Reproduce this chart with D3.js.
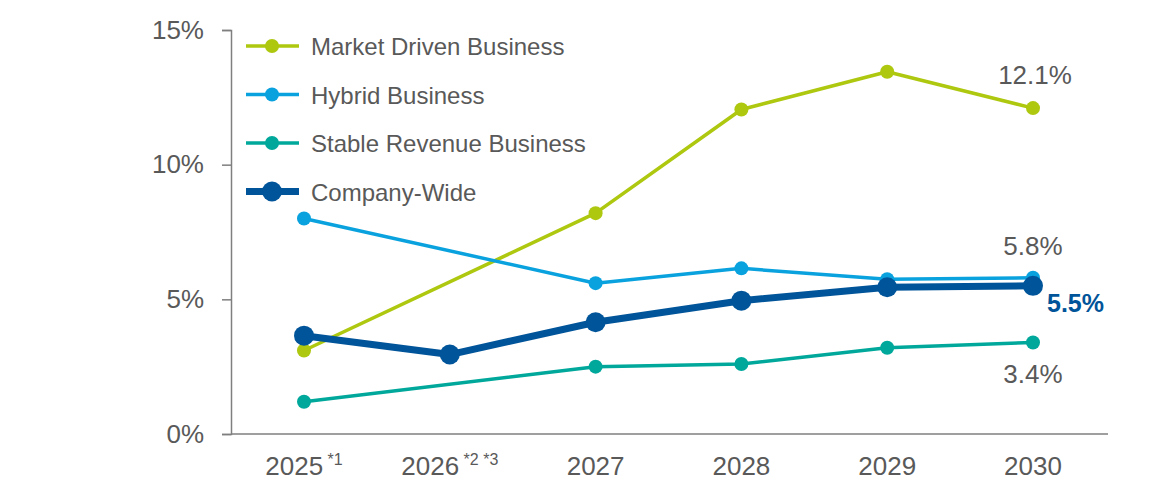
<!DOCTYPE html>
<html>
<head>
<meta charset="utf-8">
<script src="https://cdn.jsdelivr.net/npm/d3@7/dist/d3.min.js"></script>
<style>
  html, body { margin: 0; padding: 0; background: #fff; }
  svg { display: block; font-family: "Liberation Sans", Arial, sans-serif; }
</style>
</head>
<body>
<svg id="chart" width="1166" height="483"></svg>
<script>
// Fiscal years on the x axis (footnote markers shown as superscripts)
const years = ["2025", "2026", "2027", "2028", "2029", "2030"];
const yearNotes = ["*1", "*2 *3", "", "", "", ""];

// Growth rates in % (null = no value for that year)
const marketDriven = [3.1, null, 8.2, 12.05, 13.45, 12.1];
const hybrid = [8.0, null, 5.6, 6.15, 5.75, 5.8];
const stableRevenue = [1.2, null, 2.5, 2.6, 3.2, 3.4];
const companyWide = [3.65, 2.95, 4.15, 4.95, 5.45, 5.5];

const yTicks = [0, 5, 10, 15];

const series = [
  { name: "Market Driven Business", values: marketDriven, color: "#AEC70F", width: 3.5, r: 7 },
  { name: "Hybrid Business", values: hybrid, color: "#0AA2DE", width: 3.5, r: 7 },
  { name: "Stable Revenue Business", values: stableRevenue, color: "#00A89B", width: 3.5, r: 7 },
  { name: "Company-Wide", values: companyWide, color: "#005499", width: 7, r: 10 }
];

const svg = d3.select("#chart");
const margin = { left: 231, right: 58, top: 30, bottom: 49 };
const W = 1166, H = 483;

const x = d3.scalePoint().domain(years).range([304, 1033]);
const y = d3.scaleLinear().domain([0, 15]).range([H - margin.bottom, margin.top]);

const textColor = "#595959";
const axisColor = "#7f7f7f";

// Y axis
const yAxis = svg.append("g")
  .attr("transform", `translate(${margin.left},0)`)
  .call(d3.axisLeft(y).tickValues(yTicks).tickSize(9).tickPadding(18).tickFormat(d => d + "%"));
yAxis.select(".domain").attr("stroke", axisColor).attr("stroke-width", 1.5);
yAxis.selectAll(".tick line").attr("stroke", axisColor).attr("stroke-width", 1.5);
yAxis.selectAll(".tick text").attr("fill", textColor).attr("font-size", 26).attr("font-family", null);

// X axis baseline
svg.append("line")
  .attr("x1", margin.left).attr("x2", W - margin.right)
  .attr("y1", y(0)).attr("y2", y(0))
  .attr("stroke", axisColor).attr("stroke-width", 1.5);

// X labels with footnote superscripts, whole label centred on its year
const xl = svg.append("g").selectAll("text").data(years).join("text")
  .attr("x", d => x(d))
  .attr("y", 475)
  .attr("text-anchor", "middle")
  .attr("fill", textColor)
  .attr("font-size", 26);
xl.each(function(d, i) {
  const t = d3.select(this);
  t.append("tspan").text(d);
  if (yearNotes[i]) {
    t.append("tspan").text(" " + yearNotes[i]).attr("font-size", 16).attr("dy", -10);
  }
});

// Lines and markers
const line = d3.line()
  .defined(d => d.v !== null)
  .x(d => x(d.year))
  .y(d => y(d.v));

series.forEach(s => {
  const pts = years.map((yr, i) => ({ year: yr, v: s.values[i] })).filter(d => d.v !== null);
  svg.append("path")
    .datum(pts)
    .attr("fill", "none")
    .attr("stroke", s.color)
    .attr("stroke-width", s.width)
    .attr("stroke-linejoin", "round")
    .attr("d", line);
  svg.append("g").selectAll("circle").data(pts).join("circle")
    .attr("cx", d => x(d.year))
    .attr("cy", d => y(d.v))
    .attr("r", s.r)
    .attr("fill", s.color);
});

// Legend
const legend = svg.append("g");
series.forEach((s, i) => {
  const ly = 46 + i * 48.5;
  legend.append("line")
    .attr("x1", 246).attr("x2", 299).attr("y1", ly).attr("y2", ly)
    .attr("stroke", s.color).attr("stroke-width", s.width);
  legend.append("circle").attr("cx", 272).attr("cy", ly).attr("r", s.r).attr("fill", s.color);
  legend.append("text")
    .attr("x", 311).attr("y", ly + 9)
    .attr("fill", textColor).attr("font-size", 24)
    .text(s.name);
});

// End-of-series value labels (2030)
const last = years[years.length - 1];
const fmt = v => v.toFixed(1) + "%";
svg.append("text").attr("x", x(last) + 2).attr("y", y(marketDriven[5]) - 24)
  .attr("text-anchor", "middle").attr("fill", textColor).attr("font-size", 26).text(fmt(marketDriven[5]));
svg.append("text").attr("x", x(last)).attr("y", y(hybrid[5]) - 23)
  .attr("text-anchor", "middle").attr("fill", textColor).attr("font-size", 26).text(fmt(hybrid[5]));
svg.append("text").attr("x", x(last) + 14).attr("y", y(companyWide[5]) + 26)
  .attr("text-anchor", "start").attr("fill", "#005499").attr("font-size", 25).attr("font-weight", "bold").text(fmt(companyWide[5]));
svg.append("text").attr("x", x(last)).attr("y", y(stableRevenue[5]) + 41)
  .attr("text-anchor", "middle").attr("fill", textColor).attr("font-size", 26).text(fmt(stableRevenue[5]));
</script>
</body>
</html>
